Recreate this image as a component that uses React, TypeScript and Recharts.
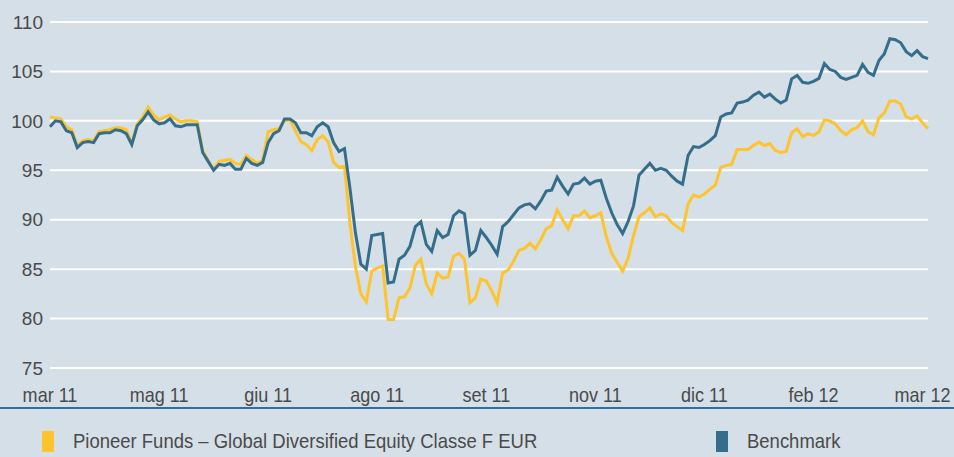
import { LineChart, Line, XAxis, YAxis, CartesianGrid } from "recharts";

const monthLabels = ["mar 11", "mag 11", "giu 11", "ago 11", "set 11", "nov 11", "dic 11", "feb 12", "mar 12"];
const yTicks = [75, 80, 85, 90, 95, 100, 105, 110];

// Pioneer Funds – Global Diversified Equity Classe F EUR
const fund = [
  100.4, 100.3, 100.2, 99.4, 99.1, 97.5, 98.0, 98.1, 98.0, 98.9,
  99.0, 99.1, 99.3, 99.3, 99.1, 97.7, 99.7, 100.4, 101.4, 100.6,
  100.1, 100.4, 100.6, 100.2, 99.9, 100.0, 100.0, 99.9, 97.0, 96.0,
  95.1, 95.9, 96.0, 96.1, 95.7, 95.6, 96.5, 96.1, 95.7, 96.0,
  98.9, 99.1, 99.2, 100.0, 100.1, 99.0, 97.9, 97.6, 97.0, 98.1,
  98.5, 97.9, 95.8, 95.3, 95.4, 89.6, 85.3, 82.5, 81.7, 84.8,
  85.1, 85.3, 79.9, 79.9, 82.1, 82.2, 83.1, 85.4, 86.0, 83.5,
  82.5, 84.6, 84.1, 84.2, 86.3, 86.6, 86.0, 81.6, 82.1, 84.0,
  83.8, 82.8, 81.6, 84.6, 84.9, 85.8, 86.9, 87.1, 87.6, 87.05,
  88.0, 89.1, 89.4, 91.0, 90.0, 89.1, 90.4, 90.4, 90.9, 90.2,
  90.4, 90.7, 88.3, 86.6, 85.7, 84.8, 86.1, 88.4, 90.3, 90.7,
  91.2, 90.3, 90.6, 90.4, 89.7, 89.3, 88.9, 91.6, 92.5, 92.3,
  92.6, 93.1, 93.5, 95.3, 95.5, 95.6, 97.1, 97.1, 97.1, 97.5,
  97.85, 97.5, 97.7, 97.0, 96.8, 96.9, 98.8, 99.2, 98.4, 98.7,
  98.5, 98.9, 100.1, 100.0, 99.7, 99.0, 98.6, 99.1, 99.3, 100.0,
  98.9, 98.6, 100.3, 100.8, 102.0, 102.0, 101.7, 100.4, 100.2, 100.5,
  99.8, 99.2,
];

const benchmark = [
  99.4, 100.0, 99.9, 99.0, 98.8, 97.3, 97.8, 97.9, 97.8, 98.7,
  98.8, 98.8, 99.1, 99.0, 98.7, 97.6, 99.5, 100.1, 100.9, 100.1,
  99.7, 99.8, 100.2, 99.5, 99.4, 99.6, 99.6, 99.6, 96.8, 95.9,
  95.0, 95.6, 95.5, 95.7, 95.1, 95.1, 96.2, 95.7, 95.5, 95.8,
  97.8, 98.7, 99.0, 100.2, 100.2, 99.8, 98.8, 98.8, 98.5, 99.4,
  99.8, 99.4, 97.8, 96.9, 97.2, 93.2, 88.7, 85.5, 85.0, 88.4,
  88.5, 88.6, 83.6, 83.7, 86.0, 86.4, 87.3, 89.3, 89.8, 87.5,
  86.8, 88.9, 88.2, 88.5, 90.4, 90.9, 90.6, 86.4, 86.9, 88.9,
  88.2, 87.4, 86.5, 89.3, 89.8, 90.5, 91.2, 91.5, 91.6, 91.1,
  91.9, 92.9, 93.0, 94.3, 93.4, 92.6, 93.6, 93.7, 94.2, 93.6,
  93.9, 94.0, 92.2, 90.7, 89.5, 88.6, 89.8, 91.4, 94.5, 95.1,
  95.7, 95.0, 95.2, 95.0, 94.4, 93.9, 93.6, 96.5, 97.4, 97.3,
  97.6, 98.0, 98.5, 100.4, 100.7, 100.8, 101.8, 101.9, 102.1, 102.6,
  102.9, 102.4, 102.7, 102.2, 101.8, 102.1, 104.25, 104.6, 103.9, 103.8,
  104.0, 104.3, 105.8, 105.2, 105.0, 104.4, 104.2, 104.4, 104.6, 105.7,
  104.9, 104.6, 106.1, 106.8, 108.3, 108.2, 107.9, 107.0, 106.6, 107.1,
  106.5, 106.3,
];

const POINTS_PER_LABEL = 20;
const xTicks = monthLabels.map((_, k) => k * POINTS_PER_LABEL);

const data = fund.map((v, i) => ({ i, fund: v, benchmark: benchmark[i] }));

const FONT = "'Liberation Sans', Arial, sans-serif";
const TEXT = "#4a4a4a";
const YELLOW = "#fec42d";
const BLUE = "#356e8a";
const SQUEEZE = 0.88;

const MonthTick = (props: any) => {
  const { x, y, payload } = props;
  const label = monthLabels[Math.round(payload.value / POINTS_PER_LABEL)];
  return (
    <g transform={`translate(${x},${y}) scale(${SQUEEZE},1)`}>
      <text x={0} y={0} dy="0.71em" textAnchor="middle" fill={TEXT} fontSize={20.5} fontFamily={FONT}>
        {label}
      </text>
    </g>
  );
};

const legendText = {
  position: "absolute" as const,
  top: 19,
  fontSize: 21,
  color: TEXT,
  whiteSpace: "nowrap" as const,
  lineHeight: "26px",
  transform: `scaleX(${SQUEEZE})`,
  transformOrigin: "left center",
};

export default function App() {
  return (
    <div
      style={{
        position: "fixed",
        left: 0,
        top: 0,
        width: 954,
        height: 457,
        background: "#d5dfe7",
        fontFamily: FONT,
        overflow: "hidden",
      }}
    >
      <LineChart width={954} height={407} data={data} margin={{ top: 22, right: 26, left: 0, bottom: 9 }}>
        <CartesianGrid vertical={false} stroke="#ffffff" strokeWidth={2} />
        <XAxis
          dataKey="i"
          type="number"
          domain={[0, fund.length - 1]}
          ticks={xTicks}
          axisLine={false}
          tickLine={false}
          tickSize={0}
          tickMargin={19}
          height={30}
          interval={0}
          tick={MonthTick}
        />
        <YAxis
          domain={[75, 110]}
          ticks={yTicks}
          axisLine={false}
          tickLine={false}
          tickSize={0}
          tickMargin={7}
          width={50}
          interval={0}
          tick={{ fill: TEXT, fontSize: 19, fontFamily: FONT }}
        />
        <Line
          type="linear"
          dataKey="fund"
          stroke={YELLOW}
          strokeWidth={3}
          dot={false}
          isAnimationActive={false}
        />
        <Line
          type="linear"
          dataKey="benchmark"
          stroke={BLUE}
          strokeWidth={3}
          dot={false}
          isAnimationActive={false}
        />
      </LineChart>
      <div style={{ borderTop: "2px solid #2e6ea3", width: 954, height: 48, position: "relative" }}>
        <div style={{ position: "absolute", left: 42, top: 22, width: 12, height: 21, background: YELLOW }} />
        <div style={{ ...legendText, left: 73 }}>Pioneer Funds – Global Diversified Equity Classe F EUR</div>
        <div style={{ position: "absolute", left: 716, top: 22, width: 12, height: 21, background: BLUE }} />
        <div style={{ ...legendText, left: 747 }}>Benchmark</div>
      </div>
    </div>
  );
}
